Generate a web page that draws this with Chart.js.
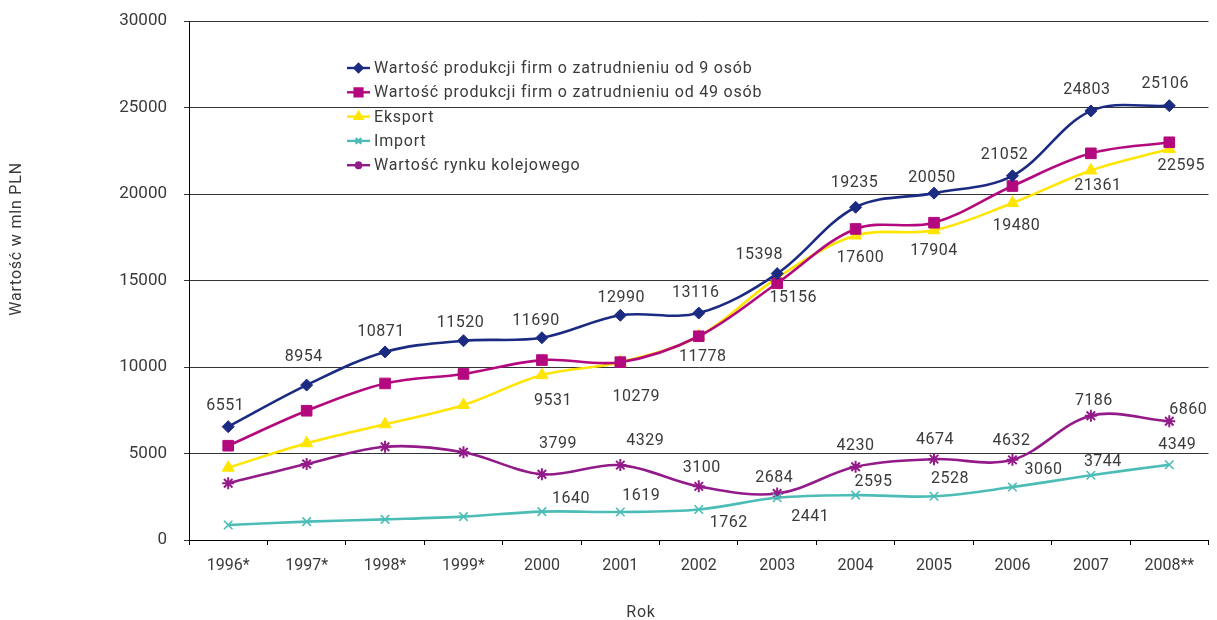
<!DOCTYPE html>
<html lang="pl">
<head>
<meta charset="utf-8">
<title>Wartość produkcji i rynku kolejowego</title>
<script src="https://cdn.jsdelivr.net/npm/chart.js@4.4.1/dist/chart.umd.min.js"></script>
<style>
  html, body { margin: 0; padding: 0; background: #fff; }
  #target { width: 1217px; height: 620px; }
</style>
</head>
<body>
<div id="target"><canvas id="wykres" width="1217" height="620"></canvas></div>
<script>
// lata
var years = ['1996*', '1997*', '1998*', '1999*', '2000', '2001', '2002', '2003', '2004', '2005', '2006', '2007', '2008**'];

// wartości w mln PLN
var prod9 = [6551, 8954, 10871, 11520, 11690, 12990, 13116, 15398, 19235, 20050, 21052, 24803, 25106];
var prod49 = [5450, 7470, 9050, 9600, 10400, 10279, 11778, 14840, 17980, 18340, 20460, 22350, 22990];
var eksport = [4180, 5590, 6690, 7800, 9531, 10279, 11778, 15156, 17600, 17904, 19480, 21361, 22595];
var importVals = [870, 1060, 1190, 1350, 1640, 1619, 1762, 2441, 2595, 2528, 3060, 3744, 4349];
var kolej = [3280, 4390, 5390, 5070, 3799, 4329, 3100, 2684, 4230, 4674, 4632, 7186, 6860];

// oś Y
var yMin = 0, yMax = 30000, yStep = 5000;

var TEXT = '#3a3a3a';
var FONT = 'Roboto, "DejaVu Sans", sans-serif';

// przesunięcia etykiet wartości względem punktów [dx, dy]
var offProd9 = [[-3,-21],[-3,-28],[-4,-20],[-3,-18],[-6,-17],[1,-17],[-3,-20],[-18,-19],[-1,-24],[-2,-15],[-8,-21],[-4,-21],[-4,-22]];
var offEksport = [null,null,null,null,[11,26],[16,35],[4,21],[16,20],[5,22],[0,21],[4,23],[7,16],[12,17]];
var offImport = [null,null,null,null,[29,-13],[21,-16],[30,13],[33,19],[18,-13],[16,-17],[31,-17],[12,-13],[8,-20]];
var offKolej = [null,null,null,null,[16,-30],[25,-24],[3,-18],[-3,-16],[0,-21],[1,-19],[-1,-19],[3,-15],[19,-11]];

function serie(label, data, color, style, radius, extra) {
  var ds = {
    label: label,
    data: data,
    borderColor: color,
    backgroundColor: color,
    borderWidth: 2.6,
    pointStyle: style,
    pointRadius: radius,
    pointHoverRadius: radius,
    pointBackgroundColor: color,
    pointBorderColor: color,
    pointBorderWidth: 1,
    tension: 0.35,
    fill: false
  };
  for (var k in extra) ds[k] = extra[k];
  return ds;
}

var datasets = [
  serie('Wartość produkcji firm o zatrudnieniu od 9 osób', prod9, '#1c2b82', 'rectRot', 6, { valueOffsets: offProd9, legendRadius: 4 }),
  serie('Wartość produkcji firm o zatrudnieniu od 49 osób', prod49, '#b4087e', 'rect', 7.5, { legendRadius: 5.5 }),
  serie('Eksport', eksport, '#ffe500', 'triangle', 7, { valueOffsets: offEksport, legendRadius: 4.5 }),
  serie('Import', importVals, '#4bbdb6', 'crossRot', 6, { valueOffsets: offImport, pointBorderWidth: 1.6, legendRadius: 4 }),
  serie('Wartość rynku kolejowego', kolej, '#931b89', 'star', 6, { valueOffsets: offKolej, pointBorderWidth: 2, legendRadius: 4 })
];

// etykiety wartości przy punktach
var valueLabels = {
  id: 'valueLabels',
  afterDatasetsDraw: function (chart) {
    var ctx = chart.ctx;
    ctx.save();
    ctx.font = '16px ' + FONT;
    ctx.letterSpacing = '0.5px';
    ctx.fillStyle = TEXT;
    ctx.textAlign = 'center';
    ctx.textBaseline = 'middle';
    chart.data.datasets.forEach(function (ds, di) {
      if (!ds.valueOffsets) return;
      var meta = chart.getDatasetMeta(di);
      meta.data.forEach(function (pt, i) {
        var o = ds.valueOffsets[i];
        if (!o) return;
        ctx.fillText(String(ds.data[i]), pt.x + o[0], pt.y + o[1]);
      });
    });
    ctx.restore();
  }
};

// legenda w obszarze wykresu + tytuły osi
var legendAndTitles = {
  id: 'legendAndTitles',
  afterDraw: function (chart) {
    var ctx = chart.ctx;
    var area = chart.chartArea;
    ctx.save();
    ctx.font = '16px ' + FONT;
    ctx.letterSpacing = '0.8px';
    ctx.fillStyle = TEXT;
    ctx.textBaseline = 'middle';

    var lx = area.left + 158, ly = area.top + 47, step = 24.3;
    chart.data.datasets.forEach(function (ds, i) {
      var y = ly + i * step;
      ctx.strokeStyle = ds.borderColor;
      ctx.lineWidth = 2.4;
      ctx.beginPath();
      ctx.moveTo(lx, y);
      ctx.lineTo(lx + 23, y);
      ctx.stroke();
      ctx.fillStyle = ds.borderColor;
      Chart.helpers.drawPoint(ctx, {
        pointStyle: ds.pointStyle,
        radius: ds.legendRadius,
        rotation: 0,
        borderWidth: 1.2
      }, lx + 11.5, y);
      ctx.fillStyle = TEXT;
      ctx.textAlign = 'left';
      ctx.fillText(ds.label, lx + 27, y + 1);
    });

    // oś X
    ctx.textAlign = 'center';
    ctx.fillText('Rok', 641, 613);

    // oś Y
    ctx.translate(17, 239);
    ctx.rotate(-Math.PI / 2);
    ctx.fillText('Wartość w mln PLN', 0, 0);
    ctx.restore();
  }
};

new Chart(document.getElementById('wykres').getContext('2d'), {
  type: 'line',
  data: { labels: years, datasets: datasets },
  plugins: [valueLabels, legendAndTitles],
  options: {
    responsive: false,
    animation: false,
    layout: { padding: { top: 21, right: 5, left: 0, bottom: 0 } },
    plugins: {
      legend: { display: false },
      tooltip: { enabled: false }
    },
    scales: {
      x: {
        offset: true,
        afterFit: function (scale) { scale.height = 80; },
        grid: { drawOnChartArea: false, drawTicks: true, tickLength: 5, offset: true, color: '#000', lineWidth: 1 },
        border: { display: true, color: '#000', width: 1 },
        ticks: { color: TEXT, font: { family: FONT, size: 16 }, padding: 11, maxRotation: 0, autoSkip: false }
      },
      y: {
        min: yMin,
        max: yMax,
        afterFit: function (scale) {
          scale.width = 189;
          scale.paddingTop = 0;
          scale.paddingBottom = 0;
        },
        grid: { color: '#333', lineWidth: 1, tickLength: 5 },
        border: { display: true, color: '#000', width: 1 },
        ticks: {
          stepSize: yStep,
          color: TEXT,
          font: { family: FONT, size: 17 },
          padding: 17,
          callback: function (v) { return String(v); }
        }
      }
    }
  }
});
</script>
</body>
</html>
